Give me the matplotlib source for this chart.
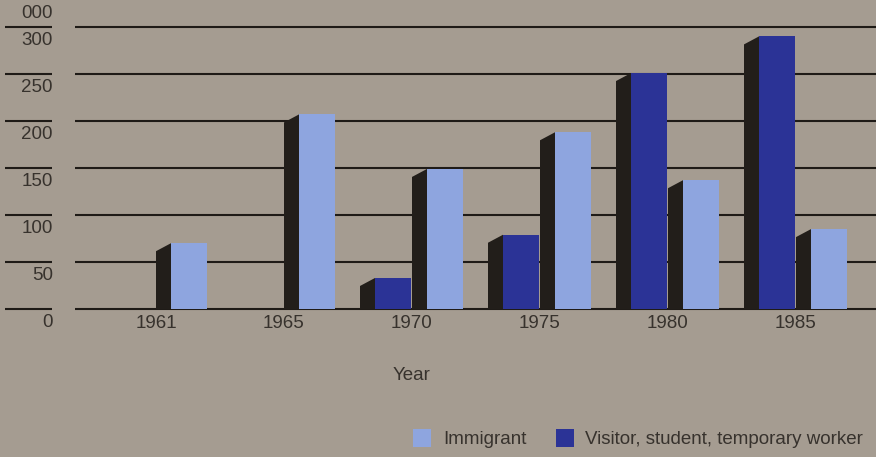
import matplotlib.pyplot as plt
import numpy as np
from matplotlib.patches import Rectangle

# Data (thousands)
years = ['1961', '1965', '1970', '1975', '1980', '1985']
immigrant = [70, 207, 149, 188, 137, 85]
visitor = [0, 0, 33, 79, 251, 290]
y_ticks = [0, 50, 100, 150, 200, 250, 300]

bg = '#a59c91'
light_blue = '#8ea5df'
dark_blue = '#2b3396'
side = '#221e1a'
ink = '#37322d'
line_c = '#1f1b17'
fs = 13.5

plt.rcParams['font.family'] = ['Liberation Sans', 'DejaVu Sans']

fig = plt.figure(figsize=(8.76, 4.57), dpi=100, facecolor=bg)
ax = fig.add_axes([0, 0, 1, 1])
ax.set_facecolor(bg)

# pixel-like scales: 128 px per group, 0.94 px per thousand
ax.set_xlim(2 - 412 / 128, 2 + 464 / 128)
ax.set_ylim(-148 / 0.94, 309 / 0.94)
ax.axis('off')

front_w = 36 / 128
side_w = 15 / 128
drop = 8 / 0.94

x = np.arange(len(years))
ytr = ax.get_yaxis_transform()

# gridlines + labels sitting under each line
for t in y_ticks:
    ax.plot([5 / 876, 52 / 876], [t, t], transform=ytr,
            color=line_c, lw=1.5, zorder=1, solid_capstyle='butt')
    ax.plot([75 / 876, 1], [t, t], transform=ytr,
            color=line_c, lw=1.5, zorder=1, solid_capstyle='butt')
    ax.text(53 / 876, t - 14, str(t), transform=ytr,
            ha='right', va='center', fontsize=fs, color=ink)
ax.text(53 / 876, 300 + 14, '000', transform=ytr,
        ha='right', va='center', fontsize=fs, color=ink)


def draw_bars(lefts, values, color):
    for l, v in zip(lefts, values):
        if v <= 0:
            continue
        xs = [l - side_w, l - side_w, l, l]
        ys = [0, v - drop, v, 0]
        ax.fill(xs, ys, color=side, zorder=2, lw=0)
    ax.bar(lefts, values, width=front_w, align='edge', color=color, zorder=3, lw=0)


draw_bars(x - 37 / 128, visitor, dark_blue)
draw_bars(x + 15 / 128, immigrant, light_blue)

for xi, yr in zip(x, years):
    ax.text(xi, -15, yr, ha='center', va='center', fontsize=fs, color=ink)

ax.text(2, -71, 'Year', ha='center', va='center', fontsize=fs, color=ink)

# legend, drawn in figure pixels
def legend_item(px, label, color, tx):
    fig.patches.append(Rectangle((px / 876, (457 - 447) / 457), 18 / 876, 18 / 457,
                                 transform=fig.transFigure, facecolor=color, lw=0))
    fig.text(tx / 876, (457 - 439) / 457, label, ha='left', va='center',
             fontsize=fs, color=ink)


legend_item(413, 'Immigrant', light_blue, 443)
legend_item(556, 'Visitor, student, temporary worker', dark_blue, 585)

fig.savefig('out.png', facecolor=bg)
